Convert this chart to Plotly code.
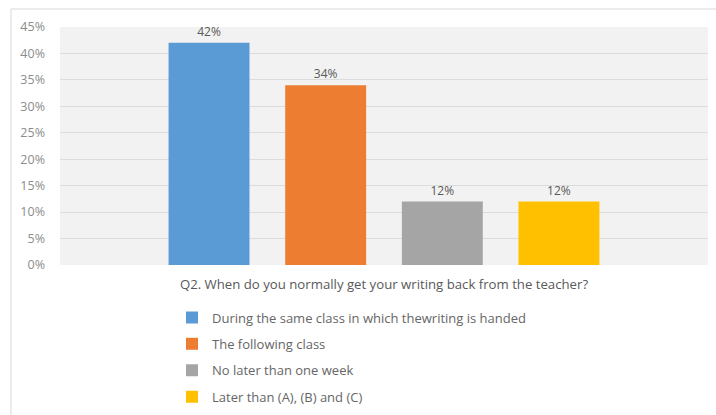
import plotly.graph_objects as go

# Survey question and answer shares
question = "Q2. When do you normally get your writing back from the teacher?"
answers = [
    "During the same class in which thewriting is handed",
    "The following class",
    "No later than one week",
    "Later than (A), (B) and (C)",
]
shares = [0.42, 0.34, 0.12, 0.12]
colors = ["#5b9bd5", "#ed7d31", "#a5a5a5", "#ffc000"]
y_ticks = [0, 0.05, 0.10, 0.15, 0.20, 0.25, 0.30, 0.35, 0.40, 0.45]

FONT = "Open Sans"

fig = go.Figure()
for i, (name, val, col) in enumerate(zip(answers, shares, colors)):
    fig.add_trace(go.Bar(
        x=[question], y=[val], name=name, legendgroup=f"g{i}",
        marker=dict(color=col, line=dict(width=0)),
        text=[f"{val:.0%}"], textposition="outside",
        textfont=dict(family=FONT, size=12, color="#595959"),
        cliponaxis=False,
    ))

# plot-area geometry in pixels
W, H = 716, 415
ml, mr, mt, mb = 60, 8, 27, 150
pw, ph = W - ml - mr, H - mt - mb

def px_x(x):
    return (x - ml) / pw

def px_y(y):
    return (H - mb - y) / ph

fig.update_layout(
    width=W, height=H,
    margin=dict(l=ml, r=mr, t=mt, b=mb, autoexpand=False),
    paper_bgcolor="white",
    plot_bgcolor="#f2f2f2",
    barmode="group",
    bargap=0.28,
    bargroupgap=0.306,
    font=dict(family=FONT, color="#595959"),
    showlegend=True,
    legend=dict(
        x=px_x(172), xanchor="left",
        y=px_y(302.5), yanchor="top",
        orientation="v",
        tracegroupgap=6.5,
        font=dict(family=FONT, size=13, color="#666666"),
        bgcolor="rgba(0,0,0,0)",
    ),
    xaxis=dict(
        showgrid=False, zeroline=False, showline=False,
        tickfont=dict(family=FONT, size=13.2, color="#595959"),
        ticklabelstandoff=10,
    ),
    yaxis=dict(
        range=[0, 0.45],
        tickvals=y_ticks,
        tickformat=".0%",
        showgrid=True, gridcolor="#dcdcdc", gridwidth=1,
        zeroline=False, showline=False,
        tickfont=dict(family=FONT, size=12.5, color="#8c8c8c"),
        ticklabelstandoff=14,
    ),
    shapes=[dict(
        type="rect", xref="paper", yref="paper",
        x0=px_x(11), x1=px_x(730), y0=px_y(430), y1=px_y(9),
        line=dict(color="#d9d9d9", width=1), fillcolor="rgba(0,0,0,0)",
        layer="below",
    )],
)

fig.write_html("out.html")
